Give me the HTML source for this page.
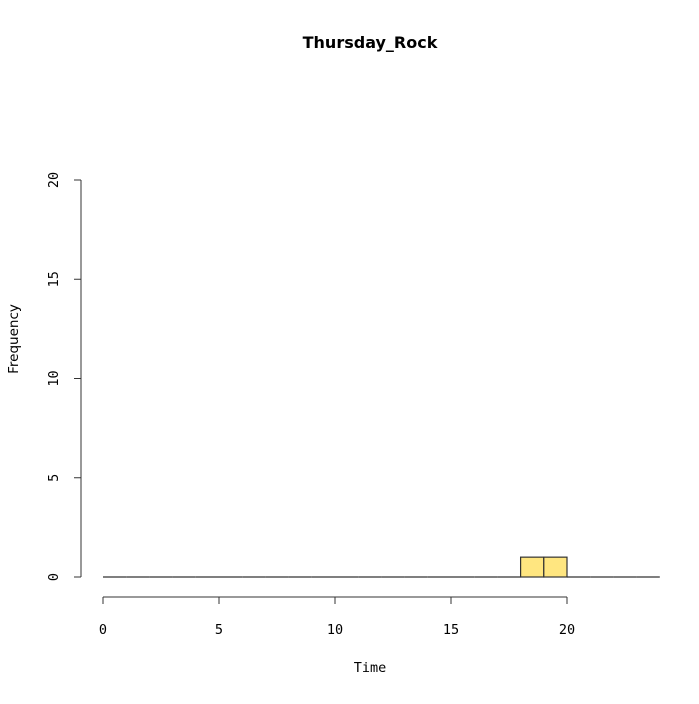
<!DOCTYPE html>
<html><head><meta charset="utf-8"><style>
html,body{margin:0;padding:0;background:#fff;}
svg text{font-family:"DejaVu Sans Mono","Liberation Mono",monospace;font-size:13.5px;fill:#000;}
</style></head><body>
<svg id="chart" width="699" height="699" viewBox="0 0 699 699" xmlns="http://www.w3.org/2000/svg">
<text x="370" y="48" text-anchor="middle" style="font-family:'DejaVu Sans','Liberation Sans',sans-serif;font-size:16px;font-weight:bold">Thursday_Rock</text>
<text x="370" y="672" text-anchor="middle">Time</text>
<text transform="translate(18,339) rotate(-90)" text-anchor="middle" style="font-family:'DejaVu Sans','Liberation Sans',sans-serif;font-size:13.5px">Frequency</text>
<g id="bars"></g>
<g id="xaxis"></g>
<g id="yaxis"></g>
</svg>
<script>
const binStarts = [0,1,2,3,4,5,6,7,8,9,10,11,12,13,14,15,16,17,18,19,20,21,22,23];
const counts = [0,0,0,0,0,0,0,0,0,0,0,0,0,0,0,0,0,0,1,1,0,0,0,0];
const xTicks = [0,5,10,15,20];
const yTicks = [0,5,10,15,20];
const NS="http://www.w3.org/2000/svg";
const sx=v=>103+v*23.2;
const sy=v=>577-v*19.85;
function mk(tag,attrs,parent){const e=document.createElementNS(NS,tag);for(const k in attrs)e.setAttribute(k,attrs[k]);parent.appendChild(e);return e;}
const bars=document.getElementById('bars');
binStarts.forEach((b,i)=>{
  let r;
  if(counts[i]===0){
    r=mk('line',{x1:sx(b),x2:sx(b+1),y1:sy(0),y2:sy(0),stroke:'#333','stroke-width':1.2},bars);
  } else {
    r=mk('rect',{x:sx(b),y:sy(counts[i]),width:sx(b+1)-sx(b),height:sy(0)-sy(counts[i]),fill:'#FFE680',stroke:'#333','stroke-width':1.2},bars);
  }
  
  
});
const xa=document.getElementById('xaxis');
const xl=mk('line',{x1:sx(xTicks[0]),x2:sx(xTicks[xTicks.length-1]),y1:597,y2:597,stroke:'#333'},xa);


xTicks.forEach(t=>{
  const tk=mk('line',{x1:sx(t),x2:sx(t),y1:597,y2:604,stroke:'#333'},xa);
  
  
  const tx=mk('text',{x:sx(t),y:634,'text-anchor':'middle'},xa);tx.textContent=t;
  
  
});
const ya=document.getElementById('yaxis');
const yl=mk('line',{x1:81,x2:81,y1:sy(yTicks[0]),y2:sy(yTicks[yTicks.length-1]),stroke:'#333'},ya);


yTicks.forEach(t=>{
  const tk=mk('line',{x1:74,x2:81,y1:sy(t),y2:sy(t),stroke:'#333'},ya);
  
  
  const tx=mk('text',{transform:`translate(58,${sy(t)}) rotate(-90)`,'text-anchor':'middle'},ya);tx.textContent=t;
  
  
});
</script>
</body></html>
